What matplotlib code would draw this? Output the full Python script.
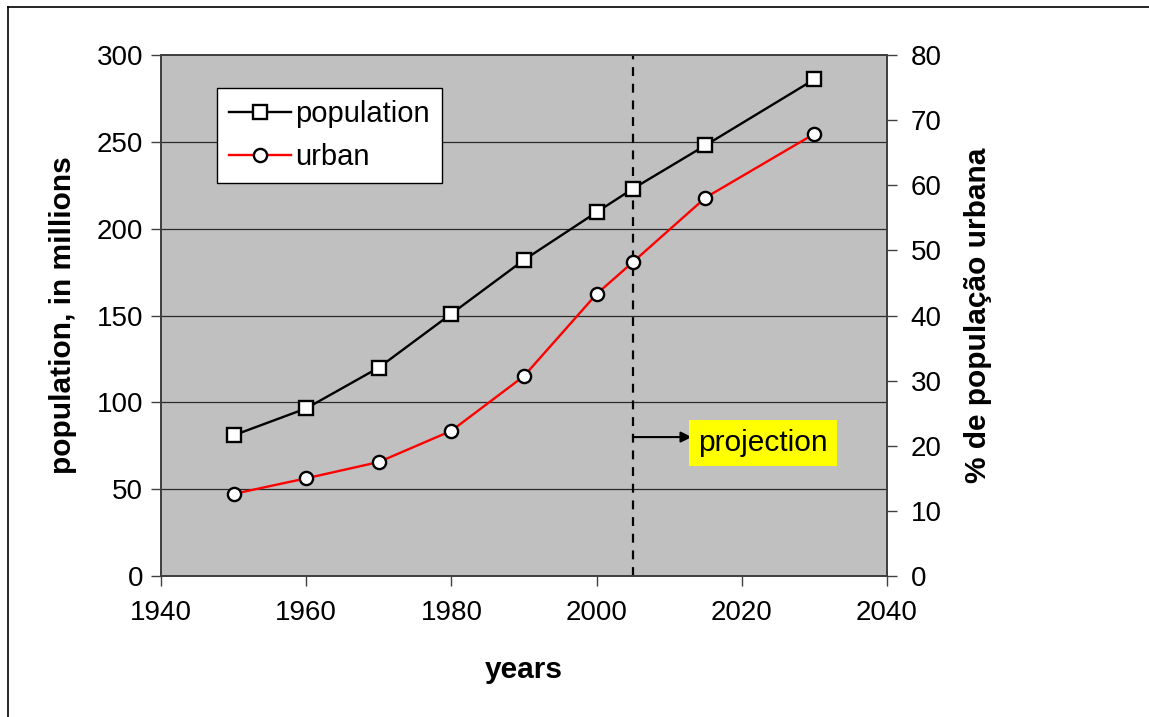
import matplotlib
matplotlib.use("Agg")
import matplotlib.pyplot as plt
from matplotlib.lines import Line2D

plt.rcParams['font.family'] = ['Liberation Sans', 'DejaVu Sans']

years = [1950, 1960, 1970, 1980, 1990, 2000, 2005, 2015, 2030]
population = [81, 96.5, 120, 151, 182, 209.5, 223, 248, 286]
urban_pct = [12.6, 15.0, 17.5, 22.3, 30.7, 43.3, 48.2, 58.1, 67.9]
projection_year = 2005

left_ticks = [0, 50, 100, 150, 200, 250, 300]
right_ticks = [0, 10, 20, 30, 40, 50, 60, 70, 80]
x_ticks = [1940, 1960, 1980, 2000, 2020, 2040]

W, H = 1149, 717
fig = plt.figure(figsize=(W / 100, H / 100), dpi=100)
fig.patch.set_facecolor('white')

# frame around the chart area
fig.add_artist(Line2D([8 / W, 8 / W], [0, 1 - 7 / H], transform=fig.transFigure, color='black', lw=1.2))
fig.add_artist(Line2D([8 / W, 1], [1 - 7 / H, 1 - 7 / H], transform=fig.transFigure, color='black', lw=1.2))

ax = fig.add_axes([161 / W, 1 - 576 / H, (887 - 161) / W, (576 - 55) / H])
ax.set_facecolor('#C0C0C0')
ax.set_xlim(1940, 2040)
ax.set_ylim(0, 300)
ax.set_xticks(x_ticks)
ax.set_yticks(left_ticks)
for v in left_ticks[1:-1]:
    ax.axhline(v, color='#2a2a2a', lw=0.9, zorder=1)

ax2 = ax.twinx()
ax2.set_ylim(0, 80)
ax2.set_yticks(right_ticks)

for a in (ax, ax2):
    for s in a.spines.values():
        s.set_color('#404040')
        s.set_linewidth(1.3)
    a.tick_params(direction='out', length=7, width=1.0, color='#404040',
                  labelsize=20, pad=6)
ax.tick_params(axis='x', pad=10)
ax2.tick_params(axis='y', pad=10)

# projection boundary
ax.axvline(projection_year, color='black', lw=1.6, ls=(0, (4, 3.5)), zorder=2)

l1, = ax.plot(years, population, color='black', lw=1.7, marker='s', ms=9.5,
              mfc='white', mec='black', mew=1.7, zorder=4, label='population')
l2, = ax2.plot(years, urban_pct, color='#FF0000', lw=1.7, marker='o', ms=9.5,
               mfc='white', mec='black', mew=1.7, zorder=4, label='urban')

ax.annotate('', xy=(2013.1, 80), xytext=(projection_year, 80),
            arrowprops=dict(arrowstyle='-|>', color='black', lw=1.5,
                            mutation_scale=16, shrinkA=0, shrinkB=0), zorder=5)
ax.text(2013.1 + 0.9, 76.5, 'projection', fontsize=21.5, ha='left', va='center',
        bbox=dict(boxstyle='square,pad=0.3', fc='#FFFF00', ec='none'), zorder=5)

leg = ax2.legend(handles=[l1, l2], loc='upper left',
                 bbox_to_anchor=((217 - 161) / 726, (576 - 88) / 521),
                 borderaxespad=0, fontsize=21, frameon=True, fancybox=False,
                 edgecolor='black', framealpha=1, handlelength=2.1,
                 handletextpad=0.15, borderpad=0.42, labelspacing=0.5)
leg.get_frame().set_linewidth(1.0)

ax.set_xlabel('years', fontsize=21.5, fontweight='bold', labelpad=22)
ax.set_ylabel('population, in millions', fontsize=21.5, fontweight='bold', labelpad=14)
ax2.set_ylabel('% de população urbana', fontsize=21.5, fontweight='bold', labelpad=16)

fig.savefig('out.png', dpi=100)
